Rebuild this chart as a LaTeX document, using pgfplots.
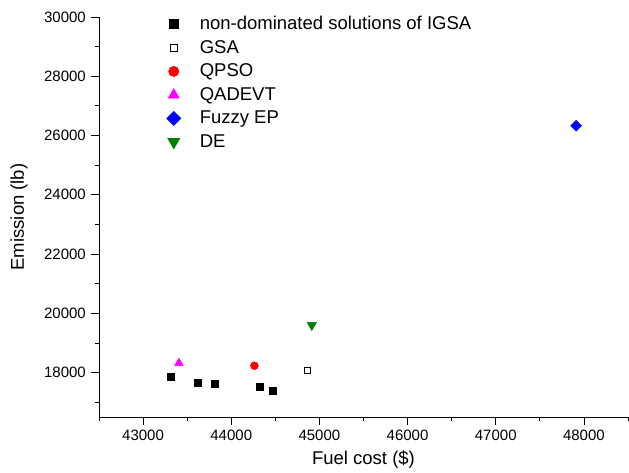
\documentclass[border=0pt]{standalone}
\usepackage{pgfplots}
\pgfplotsset{compat=1.18}
\usepackage{fontspec}
\setmainfont{Liberation Sans}
\definecolor{degreen}{RGB}{0,128,0}
\definecolor{mymag}{RGB}{255,0,255}
\definecolor{myred}{RGB}{255,0,0}
\definecolor{myblue}{RGB}{0,0,255}
\begin{document}
\fontsize{15}{18}\selectfont
\begin{tikzpicture}
\useasboundingbox (-99pt,-55pt) rectangle (530pt,417pt);
\begin{axis}[
  at={(0,0)}, anchor=south west,
  scale only axis, width=529pt, height=400pt,
  xmin=42500, xmax=48500, ymin=16500, ymax=30000,
  axis x line*=bottom, axis y line*=left,
  axis line style={-, line width=0.8pt},
  xtick={43000,44000,...,48000},
  minor xtick={42500,43500,...,48500},
  ytick={18000,20000,...,30000},
  minor ytick={17000,19000,...,29000},
  tick align=outside,
  major tick length=8pt, minor tick length=4pt,
  every tick/.style={line width=0.8pt, black},
  /pgf/number format/assume math mode=true,
  /pgf/number format/1000 sep={},
  scaled ticks=false,
  tick label style={font=\fontsize{15}{18}\selectfont},
  xlabel={Fuel cost (\$)},
  ylabel={Emission (lb)},
  xlabel style={font=\fontsize{18.5}{22}\selectfont, at={(axis description cs:0.5,-0.1075)}, anchor=center},
  ylabel style={font=\fontsize{18.5}{22}\selectfont, at={(axis description cs:-0.151,0.5)}, anchor=center},
  legend cell align=left,
  legend style={draw=none, fill=none, at={(axis description cs:0.1164,1.0125)}, anchor=north west,
    font=\fontsize{18.5}{22}\selectfont, row sep=4.4pt},
  legend image code/.code={\draw[#1, only marks, every mark/.append style={scale=1.3}] plot coordinates {(10pt,0pt)}; \path[draw=none] (0pt,0pt) (34pt,0pt);},
]
\addplot[only marks, mark=square*, mark size=3.5pt, black] coordinates {
  (43308,17875) (43623,17661) (43812,17627) (44322,17525) (44466,17400)};
\addlegendentry{non-dominated solutions of IGSA}
\addplot[only marks, mark=square, mark size=3pt, black, mark options={line width=0.6pt, fill=white}] coordinates {
  (44860,18090)};
\addlegendentry{GSA}
\addplot[only marks, mark=*, mark size=4pt, myred] coordinates {(44263,18230)};
\addlegendentry{QPSO}
\addplot[only marks, mark=triangle*, mark size=5pt, mymag] coordinates {(43406,18320)};
\addlegendentry{QADEVT}
\addplot[only marks, mark=square*, mark size=3.9pt, myblue, mark options={rotate=45}] coordinates {(47911,26330)};
\addlegendentry{Fuzzy EP}
\addplot[only marks, mark=triangle*, mark size=5.5pt, degreen, mark options={rotate=180}] coordinates {(44914,19600)};
\addlegendentry{DE}
\end{axis}
\end{tikzpicture}
\end{document}
